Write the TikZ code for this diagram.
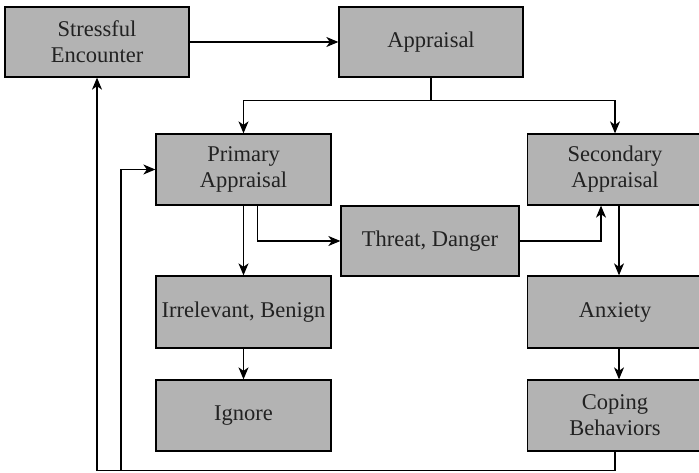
\documentclass[tikz,border=0pt]{standalone}
\usepackage{fontspec}
\setmainfont{Liberation Serif}
\usetikzlibrary{arrows.meta}
\definecolor{boxgray}{HTML}{B3B3B3}
\definecolor{txt}{HTML}{222222}
\begin{document}
\begin{tikzpicture}[x=1pt,y=-1pt,
  box/.style={draw=black,line width=1.3pt,fill=boxgray,text=txt,
    minimum width=#1,align=center,inner sep=0pt,
    font=\fontsize{22.5}{26}\selectfont},
  box/.default=184pt,
  conn/.style={line width=1.1pt,draw=black},
  arr/.style={conn,-{Stealth[length=12pt,width=10pt,inset=3.5pt]}}]
\useasboundingbox (0,0) rectangle (699,473);
\node[box=184pt,minimum height=70pt] (se) at (97,42) {Stressful\\Encounter};
\node[box=184pt,minimum height=70pt] (ap) at (431,42) {Appraisal};
\node[box=175pt,minimum height=71pt] (pa) at (243.5,169.5) {Primary\\Appraisal};
\node[box=175pt,minimum height=71pt] (sa) at (615,169.5) {Secondary\\Appraisal};
\node[box=178pt,minimum height=70pt] (td) at (430,241) {Threat, Danger};
\node[box=175pt,minimum height=72pt] (ir) at (243.5,312) {Irrelevant, Benign};
\node[box=175pt,minimum height=71pt] (ig) at (243.5,415.5) {Ignore};
\node[box=175pt,minimum height=72pt] (an) at (615,312) {Anxiety};
\node[box=175pt,minimum height=71pt] (co) at (615,415.5) {Coping\\Behaviors};
\draw[arr] (se.east) -- (ap.west);
\draw[conn] (ap.south) -- ++(0,23) coordinate (j);
\draw[arr] (j) -| (pa.north);
\draw[arr] (j) -| (sa.north);
\draw[arr] (pa.south) -- (ir.north);
\draw[arr] ([xshift=14pt]pa.south) |- (td.west);
\draw[arr] (td.east) -| ([xshift=-14pt]sa.south);
\draw[arr] ([xshift=4pt]sa.south) -- ([xshift=4pt]an.north);
\draw[arr] ([xshift=4pt]an.south) -- ([xshift=4pt]co.north);
\draw[arr] (ir.south) -- (ig.north);
\draw[conn] (co.south) -- ++(0,19) coordinate (b);
\draw[arr] (b) -| (se.south);
\coordinate (c) at (121,470);
\draw[arr] (c) |- (pa.west);
\end{tikzpicture}
\end{document}
